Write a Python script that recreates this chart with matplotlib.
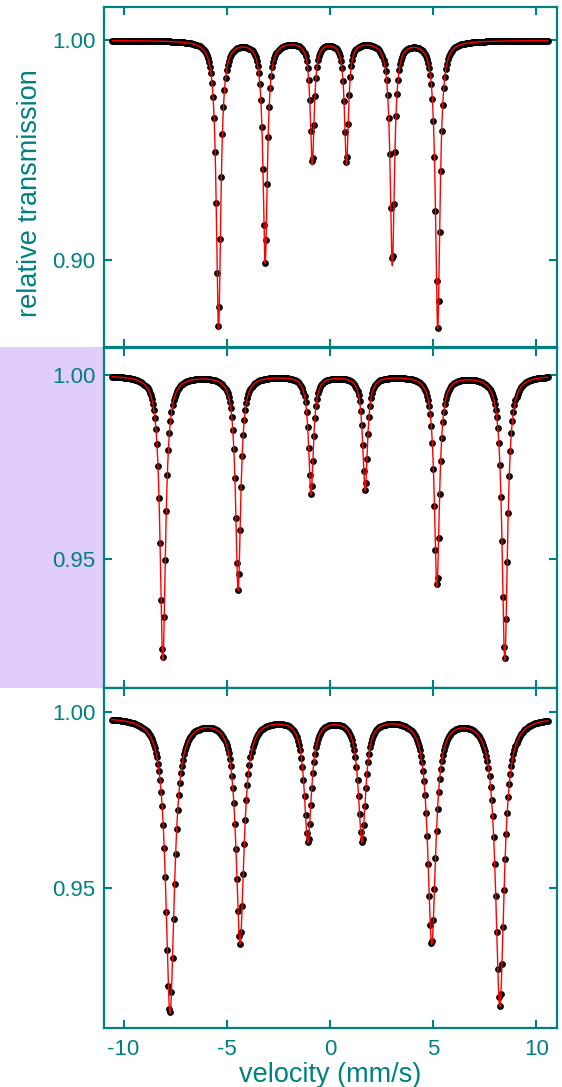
import numpy as np
import matplotlib.pyplot as plt
from matplotlib.patches import Rectangle

plt.rcParams['font.family'] = ['Liberation Sans', 'DejaVu Sans']
plt.rcParams['axes.unicode_minus'] = False

teal = '#008080'

# sextet line positions (mm/s), depths and widths
pos1 = [-5.40, -3.14, -0.86, 0.80, 3.02, 5.22]
depth1 = [0.131, 0.101, 0.056, 0.056, 0.102, 0.131]
width1 = [0.26, 0.25, 0.23, 0.23, 0.25, 0.26]
base1 = 1.0000

pos2 = [-8.10, -4.45, -0.92, 1.70, 5.18, 8.47]
depth2 = [0.077, 0.058, 0.032, 0.031, 0.057, 0.077]
width2 = [0.32, 0.30, 0.28, 0.28, 0.30, 0.32]
base2 = 0.9998

pos3 = [-7.75, -4.36, -1.07, 1.55, 4.93, 8.23]
depth3 = [0.084, 0.064, 0.035, 0.035, 0.064, 0.082]
width3 = [0.50, 0.46, 0.42, 0.42, 0.46, 0.50]
base3 = 0.9987

ylims = [(0.8601, 1.0152), (0.9151, 1.0072), (0.9101, 1.0069)]
yticks = [[0.90, 1.00], [0.95, 1.00], [0.95, 1.00]]
xticks = [-10, -5, 0, 5, 10]

velocity = np.linspace(-10.55, 10.55, 420)


def sextet(v, base, pos, depth, width):
    t = np.full_like(v, base)
    for c, d, w in zip(pos, depth, width):
        t -= d / (1 + (2 * (v - c) / w) ** 2)
    return t


spectra = [(base1, pos1, depth1, width1),
           (base2, pos2, depth2, width2),
           (base3, pos3, depth3, width3)]

fig = plt.figure(figsize=(5.62, 10.87), dpi=100)

# lavender highlight left of the middle panel
fig.patches.append(Rectangle((0, 0.3668), 0.185, 0.3137, transform=fig.transFigure,
                             facecolor='#e0cdfb', edgecolor='none', zorder=-5))

left, width = 104 / 562, (557 - 104) / 562
bottoms = [0.6805, 0.3668, 0.054]
height = 0.3131

for i, (base, pos, depth, wid) in enumerate(spectra):
    ax = fig.add_axes([left, bottoms[i], width, height])
    ax.set_facecolor('white')
    fine = np.linspace(velocity[0], velocity[-1], 4000)
    ax.scatter(velocity, sextet(velocity, base, pos, depth, wid), s=24,
               color='black', linewidths=0, zorder=2)
    ax.plot(fine, sextet(fine, base, pos, depth, wid), color='red', lw=1, zorder=3)
    ax.set_xlim(-10.95, 11.0)
    ax.set_ylim(*ylims[i])
    ax.set_yticks(yticks[i])
    ax.set_yticklabels([f'{t:.2f}' for t in yticks[i]])
    ax.set_xticks(xticks)
    for sp in ax.spines.values():
        sp.set_color(teal)
        sp.set_linewidth(1.6)
    ax.tick_params(direction='in', length=6, width=1.5, color=teal,
                   labelcolor=teal, labelsize=16, top=True, right=True, pad=6)
    ax.tick_params(axis='x', pad=8)
    if i < 2:
        ax.tick_params(labelbottom=False)
    else:
        ax.set_xlabel('velocity (mm/s)', fontsize=19.5, color=teal, labelpad=1)

fig.text(30 / 562, 1 - 193 / 1087, 'relative transmission', rotation=90,
         ha='center', va='center', fontsize=19.5, color=teal)

fig.savefig('out.png', dpi=100)
